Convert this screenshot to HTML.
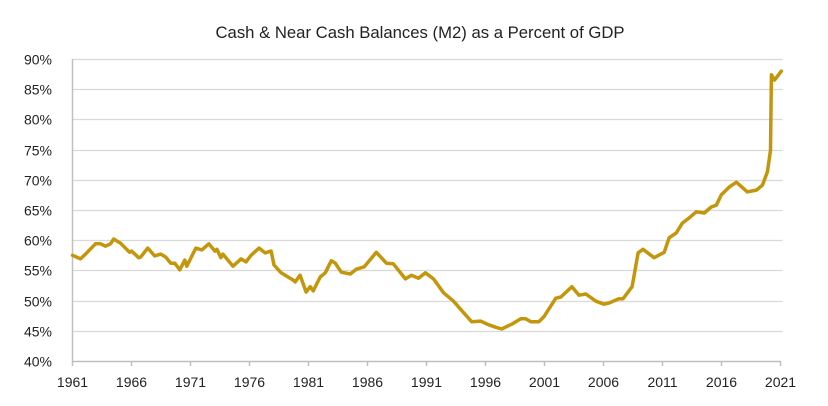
<!DOCTYPE html>
<html><head><meta charset="utf-8"><style>
html,body{margin:0;padding:0;background:#fff;}
svg{display:block;font-family:"Liberation Sans",sans-serif;}
</style></head><body>
<svg width="828" height="406" id="chart">
<text x="420" y="38" text-anchor="middle" font-size="16.7" fill="#222">Cash &amp; Near Cash Balances (M2) as a Percent of GDP</text>
<g id="grid"></g>
<g id="yaxis"></g>
<g id="xaxis"></g>
<path id="line" fill="none" stroke="#C4960C" stroke-width="3.5" stroke-linejoin="round" stroke-linecap="round"></path>
</svg>
<script>
const years=[1961,1961.68,1962.10,1962.95,1963.38,1963.80,1964.23,1964.48,1965.08,1965.84,1966.01,1966.61,1966.78,1967.37,1967.97,1968.48,1968.90,1969.33,1969.67,1970.09,1970.52,1970.69,1971.45,1971.96,1972.56,1973.07,1973.24,1973.58,1973.75,1974.60,1975.28,1975.70,1976.13,1976.81,1977.32,1977.83,1978.08,1978.68,1979.70,1979.87,1980.29,1980.80,1981.14,1981.40,1981.99,1982.42,1982.93,1983.27,1983.78,1984.54,1985.05,1985.73,1986.75,1987.60,1988.19,1989.21,1989.72,1990.32,1990.91,1991.59,1992.44,1993.29,1993.97,1994.82,1995.59,1996.27,1996.86,1997.37,1998.22,1998.99,1999.41,1999.84,2000.52,2000.94,2001.96,2002.39,2003.32,2003.92,2004.51,2005.36,2006.04,2006.47,2007.31,2007.65,2008.42,2008.93,2009.35,2010.29,2011.14,2011.56,2012.16,2012.67,2013.26,2013.86,2014.54,2015.13,2015.56,2015.98,2016.66,2017.26,2018.19,2018.96,2019.47,2019.89,2020.15,2020.23,2020.49,2021.08];
const values=[57.5,56.9,57.7,59.4,59.4,59.0,59.4,60.2,59.5,58.0,58.2,57.1,57.2,58.7,57.4,57.7,57.2,56.2,56.2,55.1,56.7,55.7,58.7,58.4,59.4,58.2,58.5,57.1,57.7,55.7,56.9,56.4,57.5,58.7,57.9,58.2,55.9,54.6,53.4,53.1,54.2,51.4,52.3,51.6,53.9,54.6,56.6,56.2,54.7,54.4,55.2,55.6,58.0,56.2,56.1,53.6,54.2,53.7,54.6,53.6,51.3,49.9,48.4,46.5,46.6,46.0,45.6,45.3,46.1,47.0,47.0,46.5,46.5,47.3,50.4,50.6,52.3,50.9,51.1,49.9,49.4,49.6,50.3,50.3,52.3,57.9,58.5,57.1,58.0,60.4,61.2,62.8,63.7,64.7,64.5,65.5,65.8,67.5,68.8,69.6,68.0,68.3,69.1,71.3,74.9,87.4,86.5,88.0];
const yTicks=[40,45,50,55,60,65,70,75,80,85,90];
const xTicks=[1961,1966,1971,1976,1981,1986,1991,1996,2001,2006,2011,2016,2021];
const NS='http://www.w3.org/2000/svg';
const X0=72.5,X1=780.5,Y0=361,Y1=59;
const sx=v=>X0+(v-1961)/60*(X1-X0);
const sy=v=>Y0-(v-40)/50*(Y0-Y1);
const grid=document.getElementById('grid'),ya=document.getElementById('yaxis'),xa=document.getElementById('xaxis');
function mk(t,a,p){const e=document.createElementNS(NS,t);for(const k in a)e.setAttribute(k,a[k]);p.appendChild(e);return e;}
yTicks.forEach(v=>{
  const y=Math.round(sy(v))+0.5;
  if(v>40){const g=mk('line',{x1:X0,x2:X1+2,y1:y,y2:y,stroke:'#d9d9d9','stroke-width':1.2},grid);
  
  }
  const t=mk('text',{x:52,y:y+5,'text-anchor':'end','font-size':14,fill:'#222'},ya);
  t.textContent=v+'%';
  
  
});
mk('line',{x1:X0,x2:X0,y1:Y1,y2:Y0,stroke:'#bfbfbf','stroke-width':1.5},ya);
mk('line',{x1:X0,x2:X1,y1:Y0+0.5,y2:Y0+0.5,stroke:'#bfbfbf','stroke-width':1.5},xa);
xTicks.forEach(v=>{
  const x=sx(v);
  mk('line',{x1:x,x2:x,y1:Y0,y2:Y0+5,stroke:'#bfbfbf','stroke-width':1.5},xa);
  const t=mk('text',{x:x,y:387,'text-anchor':'middle','font-size':14,fill:'#222'},xa);
  t.textContent=v;
  
  
});
document.getElementById('line').setAttribute('d',years.map((y,i)=>(i?'L':'M')+sx(y).toFixed(1)+' '+sy(values[i]).toFixed(1)).join(' '));
</script>
</body></html>
